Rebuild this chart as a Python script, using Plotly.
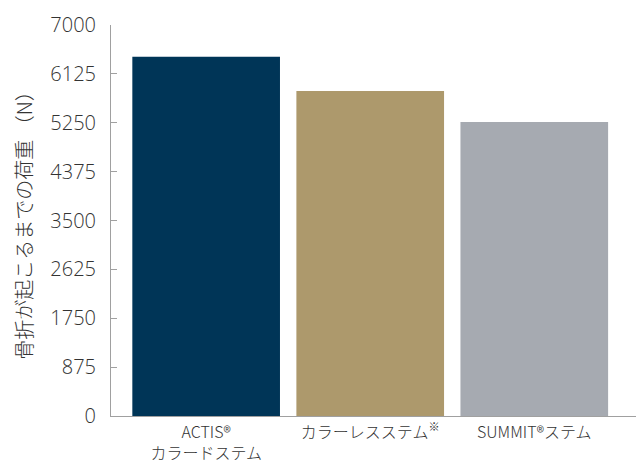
import plotly.graph_objects as go

categories = ["ACTIS®<br>カラードステム", "カラーレスステム<sup>※</sup>", "SUMMIT®ステム"]
values = [6430, 5820, 5265]
colors = ["#003557", "#AD996C", "#A6AAB1"]
y_ticks = [0, 875, 1750, 2625, 3500, 4375, 5250, 6125, 7000]

fig = go.Figure(go.Bar(x=categories, y=values, marker=dict(color=colors, line=dict(width=0)), width=0.9))

fig.update_layout(
    width=636, height=464,
    margin=dict(l=111, r=0, t=25, b=48),
    paper_bgcolor="white", plot_bgcolor="white",
    showlegend=False,
    font=dict(family="Noto Sans CJK JP, Open Sans, sans-serif", color="#333333", weight=300),
)
fig.update_xaxes(
    range=[-0.58, 2.62], showline=True, linecolor="#a0a0a0", linewidth=1,
    ticks="", showgrid=False, tickfont=dict(size=16, color="#333333", weight=300),
    ticklabelstandoff=2,
    automargin=False,
)
fig.update_yaxes(
    range=[0, 7000], tickvals=y_ticks, ticktext=[str(v) for v in y_ticks],
    showline=True, linecolor="#a0a0a0", linewidth=1, ticks="inside", ticklen=6,
    tickcolor="#a0a0a0", showgrid=False, zeroline=False,
    tickfont=dict(size=20, family="Open Sans, sans-serif", color="#333333", weight=300),
    ticklabelstandoff=10,
    title=dict(text="骨折が起こるまでの荷重 （N）", font=dict(size=20, color="#333333", weight=300), standoff=12),
    automargin=False,
)
fig.write_html("out.html")
